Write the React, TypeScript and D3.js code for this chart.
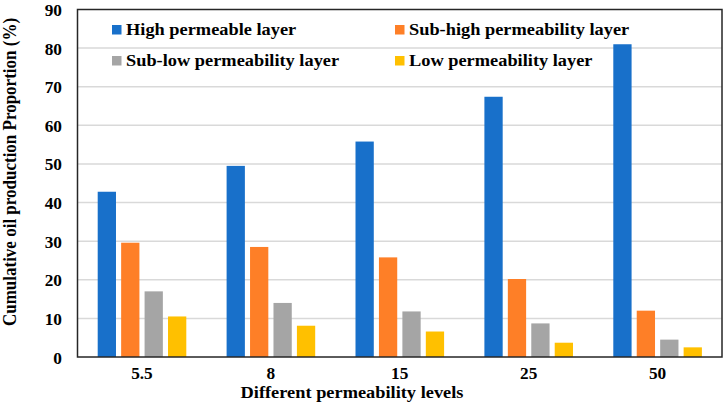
import React from "react";
import * as d3 from "d3";

const categories = ["5.5", "8", "15", "25", "50"];
const seriesNames = [
  "High permeable layer",
  "Sub-high permeability layer",
  "Sub-low permeability layer",
  "Low permeability layer",
];
const highValues = [42.8, 49.5, 55.8, 67.4, 81.0];
const subHighValues = [29.6, 28.5, 25.8, 20.2, 12.0];
const subLowValues = [17.0, 14.0, 11.8, 8.7, 4.5];
const lowValues = [10.5, 8.1, 6.6, 3.7, 2.5];
const yTicks = [0, 10, 20, 30, 40, 50, 60, 70, 80, 90];
const colors = ["#1870CA", "#FE7F27", "#A5A5A5", "#FFC000"];

const W = 726;
const H = 414;
const left = 77.5;
const right = 722;
const top = 9.5;
const bottom = 357;
const FONT = "Liberation Serif";
const SX = 1.08;

function T(props: {
  x: number;
  y: number;
  size: number;
  anchor?: string;
  children: React.ReactNode;
}) {
  return (
    <text
      transform={`translate(${props.x},${props.y}) scale(${SX},1)`}
      textAnchor={props.anchor || "start"}
      fontFamily={FONT}
      fontWeight="bold"
      fontSize={props.size}
      fill="#000"
      style={{ fontFamily: FONT, fontWeight: 700 }}
    >
      {props.children}
    </text>
  );
}

export default function App() {
  const series = [highValues, subHighValues, subLowValues, lowValues];
  const x = d3.scaleBand<string>().domain(categories).range([left, right]).padding(0);
  const bw = x.bandwidth();
  const inner = d3
    .scaleBand<number>()
    .domain([0, 1, 2, 3])
    .range([20.2, bw - 20.1])
    .paddingInner(0.22)
    .paddingOuter(0);
  const y = d3.scaleLinear().domain([0, 90]).range([bottom, top]);

  const legendPos = [
    { sx: 112, base: 34.5 },
    { sx: 395, base: 34.5 },
    { sx: 112, base: 65.5 },
    { sx: 395, base: 65.5 },
  ];

  return (
    <svg width={W} height={H} style={{ position: "absolute", left: 0, top: 0 }}>
      <rect x={0} y={0} width={W} height={H} fill="#fff" />
      {yTicks.map((t) => (
        <g key={t}>
          {t > 0 && t < 90 && (
            <line x1={left} x2={right} y1={y(t)} y2={y(t)} stroke="#D9D9D9" strokeWidth={1.5} />
          )}
          <T x={62} y={y(t) + 6.5} size={16} anchor="end">
            {t}
          </T>
        </g>
      ))}
      {categories.map((c, ci) => (
        <g key={c}>
          {series.map((vals, si) => (
            <rect
              key={si}
              x={(x(c) as number) + (inner(si) as number)}
              y={y(vals[ci])}
              width={inner.bandwidth()}
              height={y(0) - y(vals[ci])}
              fill={colors[si]}
            />
          ))}
          <T x={(x(c) as number) + bw / 2} y={379} size={16} anchor="middle">
            {c}
          </T>
        </g>
      ))}
      <rect
        x={left}
        y={top}
        width={right - left}
        height={bottom - top}
        fill="none"
        stroke="#262626"
        strokeWidth={1.5}
      />
      {seriesNames.map((n, i) => (
        <g key={n}>
          <rect x={legendPos[i].sx} y={legendPos[i].base - 9.5} width={9.5} height={9.5} fill={colors[i]} />
          <T x={legendPos[i].sx + 14} y={legendPos[i].base} size={17}>
            {n}
          </T>
        </g>
      ))}
      <T x={352} y={398} size={17} anchor="middle">
        Different permeability levels
      </T>
      <text
        transform={`translate(16,172) rotate(-90) scale(1,${SX})`}
        textAnchor="middle"
        fontFamily={FONT}
        fontWeight="bold"
        fontSize={17}
        fill="#000"
        style={{ fontFamily: FONT, fontWeight: 700 }}
      >
        Cumulative oil production Proportion (%)
      </text>
    </svg>
  );
}
